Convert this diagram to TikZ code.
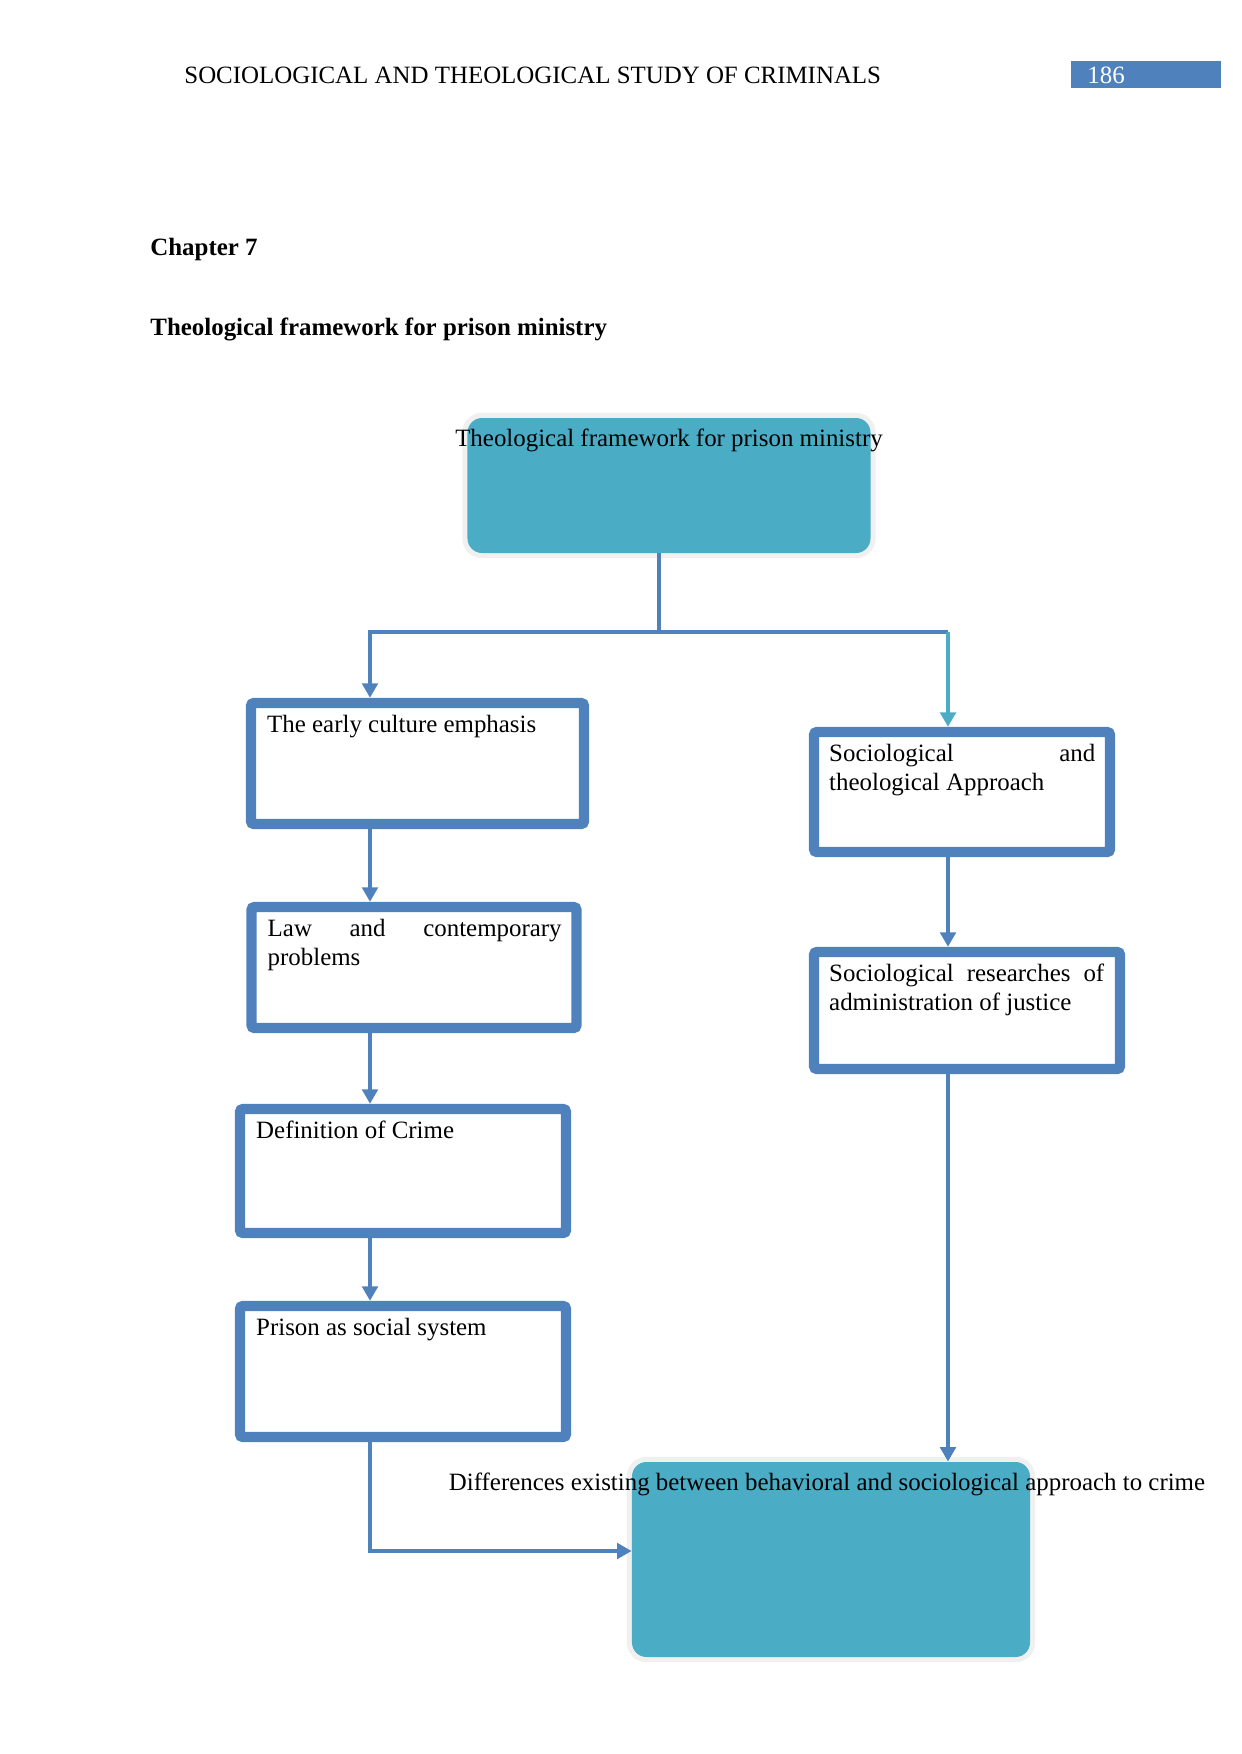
\documentclass[tikz,border=0pt]{standalone}
\usepackage{fontspec}
\setmainfont{Liberation Serif}
\usepackage{tikz}
\usetikzlibrary{positioning,arrows.meta}
\definecolor{wordblue}{HTML}{4F81BD}
\definecolor{wordteal}{HTML}{4BACC6}
\newcommand{\pxlen}{0.4818pt}

\begin{document}
\begin{tikzpicture}[
    x=0.16933mm, y=-0.16933mm,
    txt/.style={inner sep=0, font=\fontsize{12pt}{14pt}\selectfont},
    head/.style={txt, font=\fontsize{12pt}{14pt}\selectfont\bfseries},
    box/.style n args={2}{draw=wordblue, line width=5pt, rounded corners=1.5pt,
                fill=white, inner sep=0,
                minimum width=#1*\pxlen, minimum height=#2*\pxlen},
    topic/.style n args={2}{fill=wordteal, rounded corners=7pt, inner sep=0,
                preaction={draw=black!6, line width=5pt},
                minimum width=#1*\pxlen, minimum height=#2*\pxlen},
    link/.style={draw=wordblue, line width=2.25pt},
    arr/.style={link, -{Triangle[length=7pt,width=7.5pt]}}
]
  \useasboundingbox (0,0) rectangle (1241,1754);

  % page head
  \node[txt, anchor=base west] (runhead) at (184,83)
    {SOCIOLOGICAL AND THEOLOGICAL STUDY OF CRIMINALS};
  \node[fill=wordblue, inner sep=0, minimum width=150*\pxlen,
        minimum height=27*\pxlen] (pagebox) at (1146,74.5) {};
  \node[txt, text=white, anchor=base west] (pagenum) at (1087,83) {186};

  \node[head, anchor=base west] (chap) at (150,255) {Chapter 7};
  \node[head, anchor=base west] (title) at (150,335)
    {Theological framework for prison ministry};

  % boxes
  \node[topic={403}{135}] (top) at (669,485.5) {};
  \node[txt, anchor=base] (toptxt) at (669,446)
    {Theological framework for prison ministry};

  \node[box={333}{121}] (early) at (417.5,763.5) {};
  \node[txt, text width=145pt, align=justify, anchor=north west] (earlytxt)
    at ([shift={(21,17)}]early.north west) {The early culture emphasis};

  \node[box={325}{121}] (law) at (414,967.5) {};
  \node[txt, text width=141.6pt, align=justify, anchor=north west] (lawtxt)
    at ([shift={(21,17)}]law.north west) {Law\hfill and\hfill contemporary\\problems};

  \node[box={326}{124}] (crime) at (403,1171) {};
  \node[txt, text width=140pt, align=justify, anchor=north west] (crimetxt)
    at ([shift={(21,17)}]crime.north west) {Definition of Crime};

  \node[box={326}{131}] (prison) at (403,1371.5) {};
  \node[txt, text width=140pt, align=justify, anchor=north west] (prisontxt)
    at ([shift={(21,17)}]prison.north west) {Prison as social system};

  \node[box={296}{120}] (approach) at (962,792) {};
  \node[txt, text width=128.2pt, align=justify, anchor=north west] (approachtxt)
    at ([shift={(20,17)}]approach.north west) {Sociological\hfill and\\theological Approach};

  \node[box={306}{117}] (research) at (967,1010.5) {};
  \node[txt, text width=132.5pt, align=justify, anchor=north west] (researchtxt)
    at ([shift={(20,17)}]research.north west)
    {Sociological\hfill researches\hfill of\\administration of justice};

  \node[topic={398}{195}] (diff) at (831,1559.5) {};
  \node[txt, anchor=base] (difftxt) at (827,1490)
    {Differences existing between behavioral and sociological approach to crime};

  % connectors
  \coordinate (split) at (659,632);
  \coordinate (lcol) at (370,632);
  \coordinate (rcol) at (948,632);
  \coordinate (elbow) at (370,1551);

  \draw[link] (top.south -| split) -- (split);
  \draw[arr] (split) -- (lcol) -- (lcol |- early.north);
  \draw[link] (split) -- (rcol);
  \draw[arr, draw=wordteal] (rcol) -- (rcol |- approach.north);

  \draw[arr] (early.south -| lcol) -- (law.north -| lcol);
  \draw[arr] (law.south -| lcol) -- (crime.north -| lcol);
  \draw[arr] (crime.south -| lcol) -- (prison.north -| lcol);
  \draw[arr] (prison.south -| lcol) -- (elbow) -- (elbow -| diff.west);

  \draw[arr] (approach.south -| rcol) -- (research.north -| rcol);
  \draw[arr] (research.south -| rcol) -- (rcol |- diff.north);
\end{tikzpicture}
\end{document}
